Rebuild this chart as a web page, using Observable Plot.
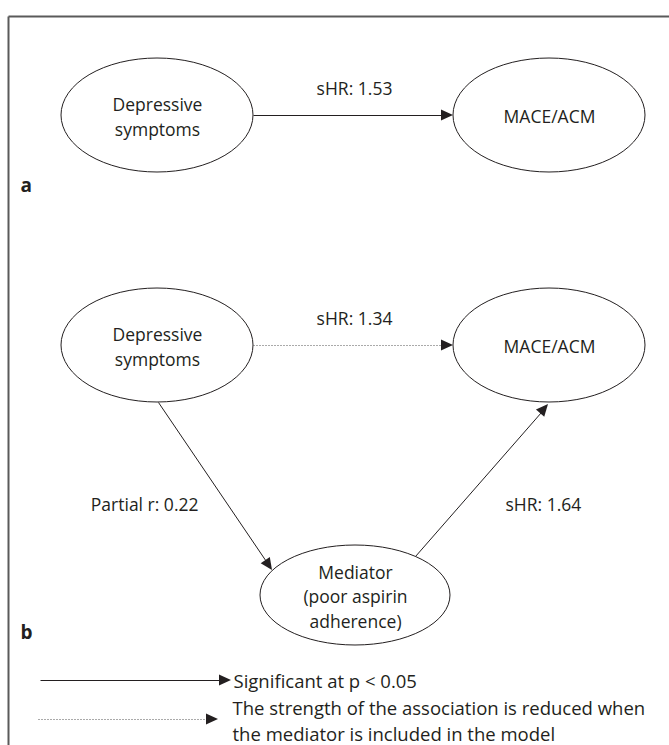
<!DOCTYPE html>
<html><head><meta charset="utf-8">
<script src="https://cdn.jsdelivr.net/npm/d3@7"></script>
<script src="https://cdn.jsdelivr.net/npm/@observablehq/plot@0.6"></script>
<style>html,body{margin:0;padding:0;background:#fff}</style>
</head><body><div id="chart"></div>
<script>
// ---- diagram content ----
const nodeLabels = ["Depressive\nsymptoms", "MACE/ACM", "Depressive\nsymptoms", "MACE/ACM", "Mediator\n(poor aspirin\nadherence)"];
const nodeCx = [157, 549, 157, 549, 355];
const nodeCy = [115, 115, 345, 345, 595];
const nodeRx = [96, 96, 96, 96, 95];
const nodeRy = [57, 57, 57, 57, 50];

const edgeLabels = ["sHR: 1.53", "sHR: 1.34", "Partial r: 0.22", "sHR: 1.64"];
const edgeKind = ["significant", "reduced", "significant", "significant"];
const edgeX1 = [253, 253, 158, 415];
const edgeY1 = [115, 345, 402, 556];
const edgeX2 = [453, 453, 272, 548];
const edgeY2 = [115, 345, 570, 404];
const edgeLabelX = [354, 354, 198, 505];
const edgeLabelY = [89, 319, 505, 505];
const edgeLabelAnchor = ["middle", "middle", "end", "start"];

const panelLabels = ["a", "b"];
const panelX = [20, 20];
const panelY = [185, 632];

const legendLabels = ["Significant at p < 0.05", "The strength of the association is reduced when\nthe mediator is included in the model"];
const legendKind = ["significant", "reduced"];
const legendX1 = [40, 38];
const legendX2 = [231, 218];
const legendY = [680, 719];
const legendTextX = [233, 232];
const legendTextY = [679, 719];

const frameX1 = [8, 8], frameY1 = [16, 16], frameX2 = [669, 8], frameY2 = [16, 745];

// ---- build tables ----
const nodes = nodeLabels.map((label, i) => ({label, cx: nodeCx[i], cy: nodeCy[i], rx: nodeRx[i], ry: nodeRy[i]}));
const edges = edgeLabels.map((label, i) => ({label, kind: edgeKind[i], x1: edgeX1[i], y1: edgeY1[i], x2: edgeX2[i], y2: edgeY2[i], lx: edgeLabelX[i], ly: edgeLabelY[i], anchor: edgeLabelAnchor[i]}));
const legend = legendLabels.map((label, i) => ({label, kind: legendKind[i], x1: legendX1[i], x2: legendX2[i], y1: legendY[i], y2: legendY[i], tx: legendTextX[i], ty: legendTextY[i]}));
const frame = frameX1.map((d, i) => ({x1: frameX1[i], y1: frameY1[i], x2: frameX2[i], y2: frameY2[i]}));
const panels = panelLabels.map((label, i) => ({label, x: panelX[i], y: panelY[i]}));
const arrows = [...edges, ...legend];

const ink = "#231f20";
const font = "'Open Sans', sans-serif";

// ellipse mark (through Plot scales)
function ellipseMark(index, scales) {
  const g = d3.create("svg:g").attr("fill", "none").attr("stroke", ink).attr("stroke-width", 1);
  for (const n of nodes) {
    const cx = scales.x(n.cx), cy = scales.y(n.cy);
    g.append("ellipse").attr("cx", cx).attr("cy", cy)
      .attr("rx", Math.abs(scales.x(n.cx + n.rx) - cx))
      .attr("ry", Math.abs(scales.y(n.cy + n.ry) - cy));
  }
  return g.node();
}
// filled arrowheads (through Plot scales)
function headMark(index, scales) {
  const g = d3.create("svg:g").attr("fill", ink).attr("stroke", "none");
  const L = 12, W = 5.5;
  for (const a of arrows) {
    const x1 = scales.x(a.x1), y1 = scales.y(a.y1), x2 = scales.x(a.x2), y2 = scales.y(a.y2);
    const dx = x2 - x1, dy = y2 - y1, len = Math.hypot(dx, dy);
    const ux = dx / len, uy = dy / len;
    const bx = x2 - ux * L, by = y2 - uy * L;
    g.append("path").attr("d", `M${x2},${y2}L${bx - uy * W},${by + ux * W}L${bx + uy * W},${by - ux * W}Z`);
  }
  return g.node();
}
// shorten line so it ends at arrowhead base
const shortX = a => a.x2 - (a.x2 - a.x1) / Math.hypot(a.x2 - a.x1, a.y2 - a.y1) * 10;
const shortY = a => a.y2 - (a.y2 - a.y1) / Math.hypot(a.x2 - a.x1, a.y2 - a.y1) * 10;

const edgeText = anchor => Plot.text(edges.filter(d => d.anchor === anchor), {x: "lx", y: "ly", text: "label", fontSize: 17.5, fill: ink, textAnchor: anchor});

const plot = Plot.plot({
  width: 669, height: 745, margin: 0,
  x: {domain: [0, 669], range: [0, 669], axis: null},
  y: {domain: [0, 745], range: [0, 745], axis: null},
  style: {fontFamily: font, background: "#fff"},
  marks: [
    Plot.link(frame, {x1: "x1", y1: "y1", x2: "x2", y2: "y2", stroke: "#5a5a5a", strokeWidth: 2}),
    ellipseMark,
    Plot.link(arrows.filter(a => a.kind === "significant"), {x1: "x1", y1: "y1", x2: shortX, y2: shortY, stroke: ink, strokeWidth: 1}),
    Plot.link(arrows.filter(a => a.kind === "reduced"), {x1: "x1", y1: "y1", x2: shortX, y2: shortY, stroke: "#555", strokeWidth: 1, strokeDasharray: "1,2"}),
    headMark,
    Plot.text(nodes, {x: "cx", y: "cy", text: "label", fontSize: 17.5, lineHeight: 1.42, fill: ink, textAnchor: "middle"}),
    edgeText("middle"),
    edgeText("start"),
    edgeText("end"),
    Plot.text(legend, {x: "tx", y: "ty", text: "label", fontSize: 18.5, lineHeight: 1.4, fill: ink, textAnchor: "start"}),
    Plot.text(panels, {x: "x", y: "y", text: "label", fontSize: 19, fontWeight: "bold", fill: ink, textAnchor: "start"})
  ]
});
document.getElementById("chart").appendChild(plot);
</script>
</body></html>
